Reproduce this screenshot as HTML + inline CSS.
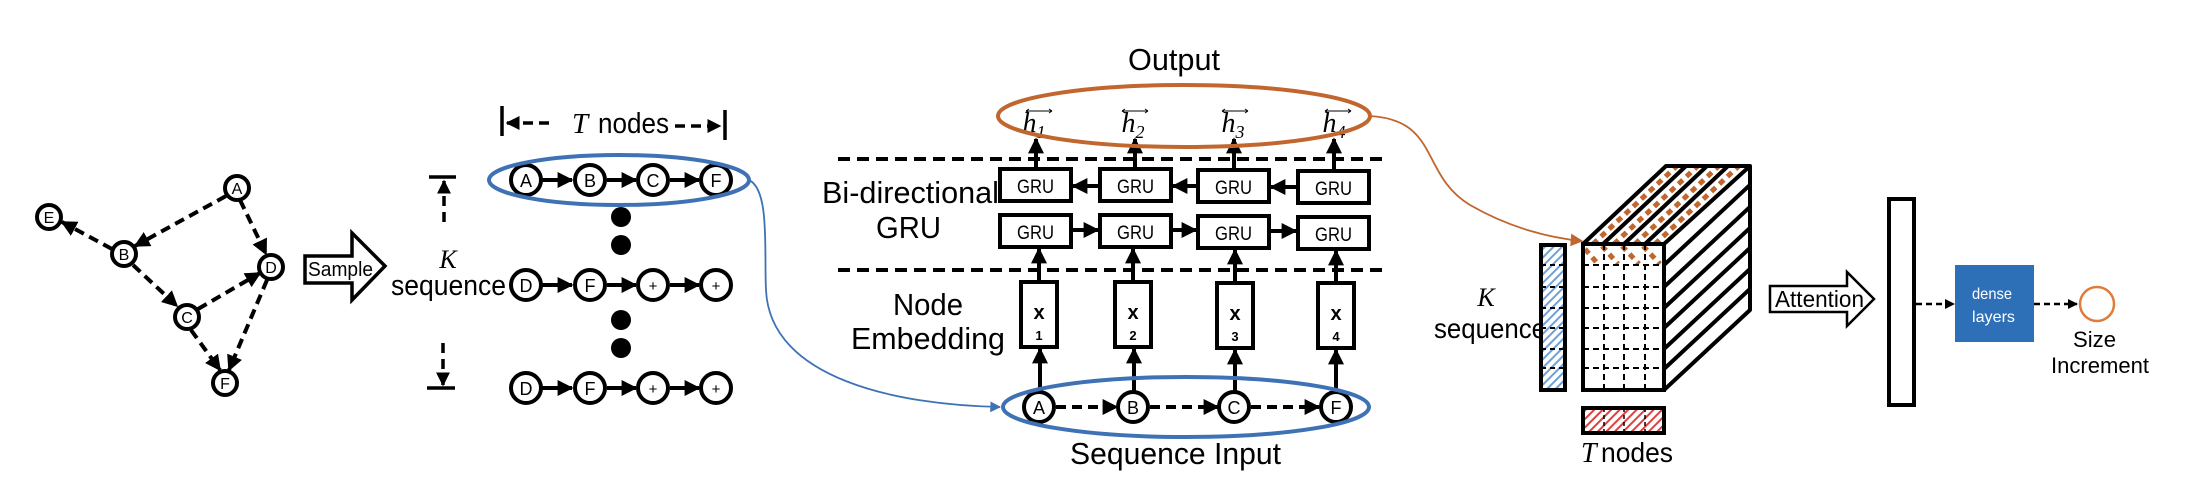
<!DOCTYPE html>
<html><head><meta charset="utf-8"><style>
html,body{margin:0;padding:0;background:#fff;}
svg{display:block;}
text{font-family:"Liberation Sans Narrow","Liberation Sans",sans-serif;}
.s{font-family:"Liberation Serif",serif;font-style:italic;}
</style></head><body>
<svg width="2204" height="478" viewBox="0 0 2204 478" xmlns="http://www.w3.org/2000/svg">
<defs>
<marker id="ah" viewBox="0 0 10 10" refX="9" refY="5" markerWidth="4" markerHeight="4" orient="auto-start-reverse"><path d="M0,0L10,5L0,10z" fill="#000"/></marker>
<marker id="ab" viewBox="0 0 10 10" refX="9" refY="5" markerWidth="6" markerHeight="6" orient="auto"><path d="M0,0L10,5L0,10z" fill="#3f72b5"/></marker>
<marker id="ao" viewBox="0 0 10 10" refX="9" refY="5" markerWidth="7" markerHeight="7" orient="auto"><path d="M0,0L10,5L0,10z" fill="#c0662e"/></marker>
<pattern id="bh" width="6" height="6" patternUnits="userSpaceOnUse" patternTransform="rotate(45)"><rect width="6" height="6" fill="#fff"/><rect width="2" height="6" fill="#6fa0d8"/></pattern>
<pattern id="rh" width="6" height="6" patternUnits="userSpaceOnUse" patternTransform="rotate(45)"><rect width="6" height="6" fill="#fff"/><rect width="2" height="6" fill="#e04040"/></pattern>
</defs>

<!-- graph -->
<g stroke="#000" stroke-width="4" stroke-dasharray="10,6" fill="none" marker-end="url(#ah)">
<line x1="226" y1="196" x2="135" y2="246"/>
<line x1="112" y1="249" x2="62" y2="222"/>
<line x1="133" y1="265" x2="177" y2="306"/>
<line x1="198" y1="309" x2="260" y2="273"/>
<line x1="240" y1="200" x2="266" y2="254"/>
<line x1="191" y1="330" x2="220" y2="370"/>
<line x1="267" y1="280" x2="229" y2="370"/>
</g>
<g stroke="#000" stroke-width="4" fill="#fff">
<circle cx="237" cy="188" r="12"/><circle cx="49" cy="217" r="12"/><circle cx="124" cy="254" r="12"/>
<circle cx="271" cy="267" r="12"/><circle cx="187" cy="317" r="12"/><circle cx="225" cy="383" r="12"/>
</g>
<g font-size="16" text-anchor="middle">
<text x="237" y="194">A</text><text x="49" y="223">E</text><text x="124" y="260">B</text>
<text x="271" y="273">D</text><text x="187" y="323">C</text><text x="225" y="389">F</text>
</g>

<!-- sample arrow -->
<path d="M305,256H352V233L385,266L352,300V283H305Z" fill="#fff" stroke="#000" stroke-width="3.5"/>
<text x="308" y="276" font-size="20" textLength="65" lengthAdjust="spacingAndGlyphs">Sample</text>

<!-- T nodes bracket -->
<g stroke="#000" stroke-width="3.5">
<line x1="502" y1="106" x2="502" y2="136"/><line x1="725" y1="110" x2="725" y2="140"/>
<line x1="507" y1="123" x2="550" y2="123" stroke-dasharray="10,6" marker-start="url(#ah)"/>
<line x1="675" y1="126" x2="720" y2="126" stroke-dasharray="10,6" marker-end="url(#ah)"/>
</g>
<text x="572" y="133" font-size="29" class="s">T</text>
<text x="598" y="133" font-size="29" textLength="71" lengthAdjust="spacingAndGlyphs">nodes</text>

<!-- K bracket -->
<g stroke="#000" stroke-width="3.5">
<line x1="429" y1="177" x2="456" y2="177"/><line x1="427" y1="388" x2="455" y2="388"/>
<line x1="444" y1="222" x2="444" y2="181" stroke-dasharray="10,6" marker-end="url(#ah)"/>
<line x1="443" y1="343" x2="443" y2="385" stroke-dasharray="10,6" marker-end="url(#ah)"/>
</g>
<text x="448" y="268" font-size="26" class="s" text-anchor="middle">K</text>
<text x="391" y="295" font-size="29" textLength="115" lengthAdjust="spacingAndGlyphs">sequence</text>

<!-- sequence rows -->
<g stroke="#000" stroke-width="4" marker-end="url(#ah)">
<line x1="542" y1="180" x2="572" y2="180"/><line x1="607" y1="180" x2="636" y2="180"/><line x1="670" y1="180" x2="699" y2="180"/>
<line x1="542" y1="285" x2="572" y2="285"/><line x1="607" y1="285" x2="636" y2="285"/><line x1="670" y1="285" x2="699" y2="285"/>
<line x1="542" y1="388" x2="572" y2="388"/><line x1="607" y1="388" x2="636" y2="388"/><line x1="670" y1="388" x2="699" y2="388"/>
</g>
<g stroke="#000" stroke-width="4" fill="#fff">
<circle cx="526" cy="180" r="15"/><circle cx="590" cy="180" r="15"/><circle cx="653" cy="180" r="15"/><circle cx="716" cy="180" r="15"/>
<circle cx="526" cy="285" r="15"/><circle cx="590" cy="285" r="15"/><circle cx="653" cy="285" r="15"/><circle cx="716" cy="285" r="15"/>
<circle cx="526" cy="388" r="15"/><circle cx="590" cy="388" r="15"/><circle cx="653" cy="388" r="15"/><circle cx="716" cy="388" r="15"/>
</g>
<g font-size="18" text-anchor="middle">
<text x="526" y="187">A</text><text x="590" y="187">B</text><text x="653" y="187">C</text><text x="716" y="187">F</text>
<text x="526" y="292">D</text><text x="590" y="292">F</text><text x="653" y="291" font-size="15">+</text><text x="716" y="291" font-size="15">+</text>
<text x="526" y="395">D</text><text x="590" y="395">F</text><text x="653" y="394" font-size="15">+</text><text x="716" y="394" font-size="15">+</text>
</g>
<g fill="#000"><ellipse cx="621" cy="217" rx="10" ry="10"/><ellipse cx="621" cy="245" rx="10" ry="10"/><ellipse cx="621" cy="320" rx="10" ry="10"/><ellipse cx="621" cy="348" rx="10" ry="10"/></g>
<ellipse cx="619" cy="180" rx="130" ry="25" fill="none" stroke="#3f72b5" stroke-width="4"/>
<path d="M749,180C770,190 764,250 766,290C770,380 900,405 1000,407" fill="none" stroke="#3f72b5" stroke-width="1.8" marker-end="url(#ab)"/>

<!-- Bi GRU section -->
<text x="1128" y="70" font-size="31" textLength="92" lengthAdjust="spacingAndGlyphs">Output</text>
<g stroke="#000" stroke-width="4" stroke-dasharray="12,7">
<line x1="838" y1="159" x2="1385" y2="159"/><line x1="838" y1="270" x2="1385" y2="270"/>
</g>
<text x="822" y="203" font-size="31" textLength="177" lengthAdjust="spacingAndGlyphs">Bi-directional</text>
<text x="876" y="238" font-size="31" textLength="65" lengthAdjust="spacingAndGlyphs">GRU</text>
<text x="893" y="315" font-size="31" textLength="70" lengthAdjust="spacingAndGlyphs">Node</text>
<text x="851" y="349" font-size="31" textLength="154" lengthAdjust="spacingAndGlyphs">Embedding</text>
<g stroke="#000" stroke-width="4" fill="#fff">
<rect x="1000" y="169" width="71" height="32"/><rect x="1100" y="169" width="71" height="32"/><rect x="1198" y="170" width="71" height="32"/><rect x="1298" y="171" width="71" height="32"/>
<rect x="1000" y="215" width="71" height="32"/><rect x="1100" y="215" width="71" height="32"/><rect x="1198" y="216" width="71" height="32"/><rect x="1298" y="217" width="71" height="32"/>
<rect x="1021" y="282" width="36" height="65"/><rect x="1115" y="282" width="36" height="65"/><rect x="1217" y="283" width="36" height="65"/><rect x="1318" y="283" width="36" height="65"/>
</g>
<g stroke="#000" stroke-width="4" marker-end="url(#ah)">
<line x1="1100" y1="186" x2="1073" y2="186"/><line x1="1198" y1="186" x2="1173" y2="186"/><line x1="1298" y1="187" x2="1271" y2="187"/>
<line x1="1071" y1="230" x2="1098" y2="230"/><line x1="1171" y1="230" x2="1196" y2="230"/><line x1="1269" y1="231" x2="1296" y2="231"/>
<line x1="1036" y1="169" x2="1036" y2="139"/><line x1="1135" y1="169" x2="1135" y2="139"/><line x1="1234" y1="170" x2="1234" y2="139"/><line x1="1334" y1="171" x2="1334" y2="139"/>
<line x1="1039" y1="282" x2="1039" y2="249"/><line x1="1133" y1="282" x2="1133" y2="249"/><line x1="1235" y1="283" x2="1235" y2="250"/><line x1="1336" y1="283" x2="1336" y2="251"/>
<line x1="1040" y1="392" x2="1040" y2="349"/><line x1="1134" y1="392" x2="1134" y2="349"/><line x1="1235" y1="392" x2="1235" y2="350"/><line x1="1336" y1="392" x2="1336" y2="350"/>
</g>
<g font-size="19">
<text x="1017" y="193" textLength="37" lengthAdjust="spacingAndGlyphs">GRU</text><text x="1117" y="193" textLength="37" lengthAdjust="spacingAndGlyphs">GRU</text><text x="1215" y="194" textLength="37" lengthAdjust="spacingAndGlyphs">GRU</text><text x="1315" y="195" textLength="37" lengthAdjust="spacingAndGlyphs">GRU</text>
<text x="1017" y="239" textLength="37" lengthAdjust="spacingAndGlyphs">GRU</text><text x="1117" y="239" textLength="37" lengthAdjust="spacingAndGlyphs">GRU</text><text x="1215" y="240" textLength="37" lengthAdjust="spacingAndGlyphs">GRU</text><text x="1315" y="241" textLength="37" lengthAdjust="spacingAndGlyphs">GRU</text>
</g>
<g font-size="20" font-weight="bold" text-anchor="middle">
<text x="1039" y="319">x</text><text x="1133" y="319">x</text><text x="1235" y="320">x</text><text x="1336" y="320">x</text>
</g>
<g font-size="13" font-weight="bold" text-anchor="middle">
<text x="1039" y="340">1</text><text x="1133" y="340">2</text><text x="1235" y="341">3</text><text x="1336" y="341">4</text>
</g>
<!-- h labels -->
<g font-size="28" text-anchor="middle">
<text x="1034" y="132" class="s">h<tspan font-size="18" dy="6">1</tspan></text>
<text x="1133" y="132" class="s">h<tspan font-size="18" dy="6">2</tspan></text>
<text x="1233" y="132" class="s">h<tspan font-size="18" dy="6">3</tspan></text>
<text x="1334" y="132" class="s">h<tspan font-size="18" dy="6">4</tspan></text>
</g>
<g stroke="#000" stroke-width="1" fill="none">
<path d="M1026,111H1052M1026,111l3,-2M1026,111l3,2M1052,111l-3,-2M1052,111l-3,2"/>
<path d="M1122,111H1148M1122,111l3,-2M1122,111l3,2M1148,111l-3,-2M1148,111l-3,2"/>
<path d="M1222,111H1248M1222,111l3,-2M1222,111l3,2M1248,111l-3,-2M1248,111l-3,2"/>
<path d="M1325,111H1351M1325,111l3,-2M1325,111l3,2M1351,111l-3,-2M1351,111l-3,2"/>
</g>
<ellipse cx="1184" cy="116" rx="186" ry="31" fill="none" stroke="#c0662e" stroke-width="4"/>
<!-- sequence input -->
<g stroke="#000" stroke-width="4" stroke-dasharray="10,6" marker-end="url(#ah)">
<line x1="1056" y1="407" x2="1117" y2="407"/><line x1="1150" y1="407" x2="1218" y2="407"/><line x1="1251" y1="407" x2="1319" y2="407"/>
</g>
<g stroke="#000" stroke-width="4" fill="#fff">
<circle cx="1039" cy="407" r="15"/><circle cx="1133" cy="407" r="15"/><circle cx="1234" cy="407" r="15"/><circle cx="1336" cy="407" r="15"/>
</g>
<g font-size="18" text-anchor="middle">
<text x="1039" y="414">A</text><text x="1133" y="414">B</text><text x="1234" y="414">C</text><text x="1336" y="414">F</text>
</g>
<ellipse cx="1186" cy="407" rx="183" ry="30" fill="none" stroke="#3f72b5" stroke-width="4"/>
<text x="1070" y="464" font-size="31" textLength="211" lengthAdjust="spacingAndGlyphs">Sequence Input</text>

<!-- orange curve -->
<path d="M1370,116C1440,120 1420,175 1470,205C1510,228 1550,238 1582,241" fill="none" stroke="#c0662e" stroke-width="1.8" marker-end="url(#ao)"/>

<!-- cube -->
<clipPath id="top"><path d="M1583,244L1666,166H1750L1664,244Z"/></clipPath>
<clipPath id="side"><path d="M1664,244L1750,166V310L1664,390Z"/></clipPath>
<path d="M1583,244L1666,166H1750L1664,244Z" fill="#fff"/>
<g clip-path="url(#top)" stroke="#c0662e" stroke-width="5" stroke-dasharray="6,5">
<line x1="1593" y1="244" x2="1680" y2="163"/><line x1="1614" y1="244" x2="1701" y2="163"/><line x1="1635" y1="244" x2="1722" y2="163"/><line x1="1655" y1="244" x2="1742" y2="163"/>
<line x1="1672" y1="244" x2="1759" y2="163"/>
</g>
<g stroke="#000" stroke-width="4">
<line x1="1603" y1="244" x2="1686" y2="166"/><line x1="1624" y1="244" x2="1707" y2="166"/><line x1="1645" y1="244" x2="1728" y2="166"/>
</g>
<g clip-path="url(#side)" stroke="#000" stroke-width="4">
<line x1="1664" y1="265" x2="1751" y2="184"/><line x1="1664" y1="287" x2="1751" y2="206"/><line x1="1664" y1="308" x2="1751" y2="227"/>
<line x1="1664" y1="328" x2="1751" y2="247"/><line x1="1664" y1="349" x2="1751" y2="268"/><line x1="1664" y1="369" x2="1751" y2="288"/>
</g>
<path d="M1583,244L1666,166H1750V310L1664,390M1664,244L1750,166" fill="none" stroke="#000" stroke-width="4" stroke-linejoin="round"/>
<rect x="1583" y="244" width="81" height="146" fill="#fff"/>
<g stroke="#c0662e" stroke-width="5" stroke-dasharray="6,5">
<line x1="1585" y1="249" x2="1598" y2="264"/><line x1="1602" y1="246" x2="1618" y2="264"/><line x1="1622" y1="246" x2="1639" y2="264"/><line x1="1643" y1="246" x2="1660" y2="264"/>
</g>
<g stroke="#000" stroke-width="2" stroke-dasharray="6,4">
<line x1="1583" y1="265" x2="1664" y2="265"/><line x1="1583" y1="287" x2="1664" y2="287"/><line x1="1583" y1="308" x2="1664" y2="308"/>
<line x1="1583" y1="328" x2="1664" y2="328"/><line x1="1583" y1="349" x2="1664" y2="349"/><line x1="1583" y1="368" x2="1664" y2="368"/>
<line x1="1604" y1="244" x2="1604" y2="390"/><line x1="1624" y1="244" x2="1624" y2="390"/><line x1="1645" y1="244" x2="1645" y2="390"/>
</g>
<rect x="1583" y="244" width="81" height="146" fill="none" stroke="#000" stroke-width="4"/>
<!-- blue strip -->
<text x="1486" y="306" font-size="26" class="s" text-anchor="middle">K</text>
<text x="1434" y="338" font-size="28" textLength="112" lengthAdjust="spacingAndGlyphs">sequence</text>
<rect x="1541" y="245" width="24" height="145" fill="url(#bh)" stroke="#000" stroke-width="4"/>
<g stroke="#000" stroke-width="2" stroke-dasharray="5,4">
<line x1="1541" y1="265" x2="1565" y2="265"/><line x1="1541" y1="287" x2="1565" y2="287"/><line x1="1541" y1="308" x2="1565" y2="308"/>
<line x1="1541" y1="328" x2="1565" y2="328"/><line x1="1541" y1="349" x2="1565" y2="349"/><line x1="1541" y1="368" x2="1565" y2="368"/>
</g>
<!-- red strip -->
<rect x="1583" y="408" width="81" height="25" fill="url(#rh)" stroke="#000" stroke-width="4"/>
<g stroke="#000" stroke-width="1.5" stroke-dasharray="4,3">
<line x1="1604" y1="408" x2="1604" y2="433"/><line x1="1624" y1="408" x2="1624" y2="433"/><line x1="1645" y1="408" x2="1645" y2="433"/>
</g>
<text x="1581" y="462" font-size="28" class="s">T</text>
<text x="1601" y="462" font-size="28" textLength="72" lengthAdjust="spacingAndGlyphs">nodes</text>

<!-- attention -->
<path d="M1770,286H1847V272L1874,299L1847,326V312H1770Z" fill="#fff" stroke="#000" stroke-width="2.5"/>
<text x="1775" y="307" font-size="23" textLength="89" lengthAdjust="spacingAndGlyphs">Attention</text>
<rect x="1889" y="199" width="25" height="206" fill="#fff" stroke="#000" stroke-width="4"/>
<g stroke="#000" stroke-width="2.5" stroke-dasharray="6,4" marker-end="url(#ah)">
<line x1="1916" y1="304" x2="1954" y2="304"/><line x1="2034" y1="304" x2="2077" y2="304"/>
</g>
<rect x="1955" y="265" width="79" height="77" fill="#2e70b8"/>
<text x="1972" y="299" font-size="16" fill="#fff" textLength="40" lengthAdjust="spacingAndGlyphs">dense</text>
<text x="1972" y="322" font-size="16" fill="#fff" textLength="43" lengthAdjust="spacingAndGlyphs">layers</text>
<circle cx="2097" cy="304" r="17" fill="#fff" stroke="#e07b39" stroke-width="2.5"/>
<text x="2073" y="347" font-size="22" textLength="43" lengthAdjust="spacingAndGlyphs">Size</text>
<text x="2051" y="373" font-size="22" textLength="98" lengthAdjust="spacingAndGlyphs">Increment</text>
</svg>
</body></html>
